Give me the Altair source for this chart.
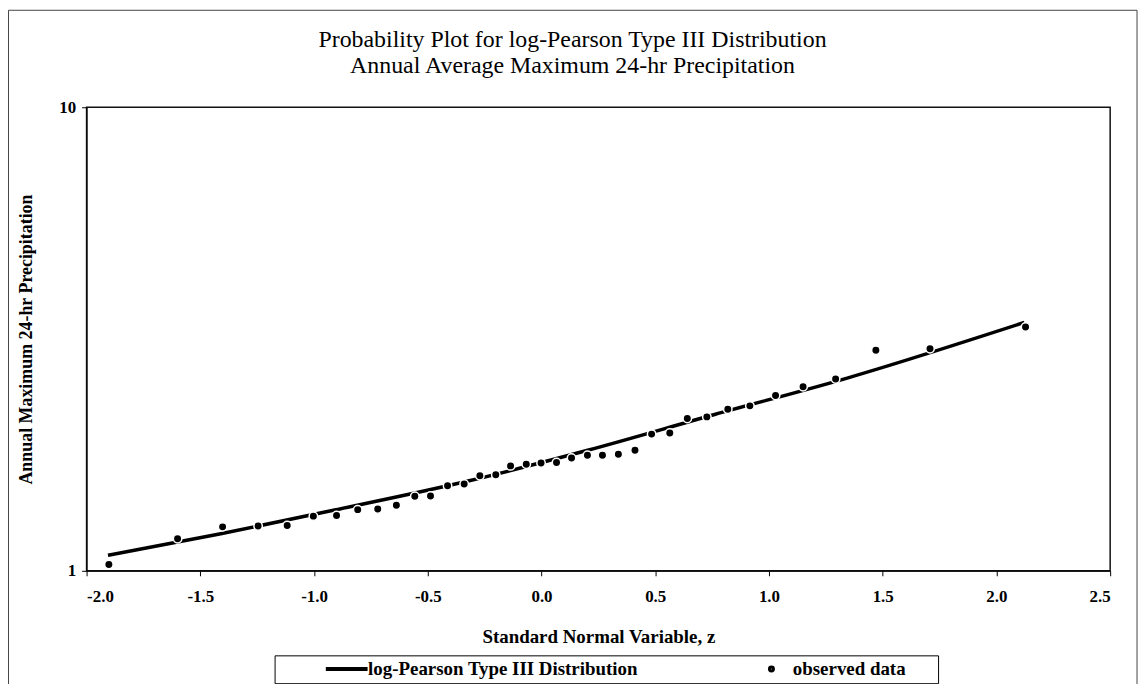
import altair as alt
import pandas as pd

# ---- data ----
z_obs = [-1.902, -1.600, -1.402, -1.246, -1.118, -1.003, -0.901, -0.808, -0.720,
         -0.638, -0.557, -0.488, -0.413, -0.340, -0.271, -0.201, -0.136, -0.067,
         -0.002, 0.066, 0.132, 0.202, 0.268, 0.338, 0.411, 0.484, 0.564, 0.641,
         0.727, 0.819, 0.916, 1.029, 1.150, 1.293, 1.470, 1.708, 2.128]
p_obs = [1.032, 1.173, 1.244, 1.249, 1.252, 1.312, 1.316, 1.355, 1.360,
         1.385, 1.448, 1.450, 1.526, 1.539, 1.603, 1.611, 1.684, 1.698,
         1.709, 1.712, 1.752, 1.775, 1.775, 1.784, 1.820, 1.972, 1.982, 2.131,
         2.148, 2.231, 2.269, 2.390, 2.495, 2.592, 2.991, 3.014, 3.356]

z_fit = [-1.906, -1.410, -0.901, -0.318, 0.207, 0.761, 1.344, 2.123]
p_fit = [1.080, 1.202, 1.355, 1.564, 1.822, 2.174, 2.605, 3.434]

x_ticks = [-2.0, -1.5, -1.0, -0.5, 0.0, 0.5, 1.0, 1.5, 2.0, 2.5]
y_ticks = [1, 10]

FIT = "log-Pearson Type III Distribution"
OBS = "observed data"
title_lines = ["Probability Plot for log-Pearson Type III Distribution",
               "Annual Average Maximum 24-hr Precipitation"]

obs_df = pd.DataFrame({"z": z_obs, "p": p_obs, "series": [OBS] * len(z_obs)})
fit_df = pd.DataFrame({"z": z_fit, "p": p_fit})

SERIF = "Liberation Serif"
W, H = 1029, 466

xscale = alt.Scale(domain=[-2.0, 2.5], nice=False, zero=False)
yscale = alt.Scale(type="log", domain=[1, 10], nice=False)

xaxis = alt.Axis(values=x_ticks, format=".1f",
                 labelExpr="replace(datum.label, '\u2212', '-')",
                 title="Standard Normal Variable, z", grid=False,
                 labelFont=SERIF, labelFontSize=17, labelFontWeight="bold",
                 labelColor="black", labelPadding=13,
                 titleFont=SERIF, titleFontSize=19, titleFontWeight="bold",
                 titleColor="black", titleY=66, titleBaseline="middle",
                 tickSize=5, tickColor="black", domainColor="black")
yaxis = alt.Axis(values=y_ticks, format="d",
                 title="Annual Maximum 24-hr Precipitation", grid=False,
                 labelFont=SERIF, labelFontSize=17, labelFontWeight="bold",
                 labelColor="black", labelPadding=6,
                 titleFont=SERIF, titleFontSize=18, titleFontWeight="bold",
                 titleColor="black", titleX=-60, titleY=H / 2,
                 titleAlign="center", titleBaseline="middle",
                 tickSize=5, tickColor="black", domainColor="black")

PAD = "\u2800" * 2
legend = alt.Legend(orient="none", legendX=189, legendY=551,
                    direction="horizontal", title=None,
                    strokeColor="black", padding=4, fillColor="white",
                    labelFont=SERIF, labelFontSize=19, labelFontWeight="bold",
                    labelColor="black", labelOffset=12, labelLimit=800,
                    columnPadding=65, symbolOffset=59, symbolSize=9,
                    symbolStrokeColor="black", symbolStrokeWidth=4,
                    labelExpr="datum.value == 'observed data' ? datum.label + '" + PAD + "' : datum.label")

line = alt.Chart(fit_df).mark_line(color="black", strokeWidth=3.5,
                                   interpolate="monotone").encode(
    x=alt.X("z:Q", scale=xscale, axis=xaxis),
    y=alt.Y("p:Q", scale=yscale, axis=yaxis),
)

# legend carrier (hidden under the visible dots)
carrier = alt.Chart(obs_df).mark_point(filled=False, color="black", size=9,
                                       strokeWidth=4, opacity=1).encode(
    x=alt.X("z:Q", scale=xscale),
    y=alt.Y("p:Q", scale=yscale),
    shape=alt.Shape("series:N",
                    scale=alt.Scale(domain=[FIT, OBS], range=["M-14,0H14", "circle"]),
                    legend=legend),
)

dots = alt.Chart(obs_df).mark_point(filled=True, fill="black", stroke="white",
                                    strokeWidth=1.5, size=72, opacity=1).encode(
    x=alt.X("z:Q", scale=xscale),
    y=alt.Y("p:Q", scale=yscale),
)

frame = alt.Chart(pd.DataFrame({"k": [0]})).mark_rect(
    fill="transparent", stroke="#444444", strokeWidth=1).encode(
    x=alt.value(-78.5), x2=alt.value(1056), y=alt.value(-97.5), y2=alt.value(620))

chart = alt.layer(frame, line, carrier, dots).properties(
    width=W, height=H,
    background="white",
    title=alt.TitleParams(text=title_lines, font=SERIF, fontSize=24,
                          fontWeight="normal", color="black", lineHeight=27,
                          anchor="middle", dx=-26, offset=-69),
    autosize=alt.AutoSizeParams(type="none"),
    padding={"left": 79, "top": 98, "right": 30, "bottom": 112},
).configure_view(stroke="#111111", strokeWidth=1.5)

chart.save("out.html", embed_options={"renderer": "svg", "actions": False})
